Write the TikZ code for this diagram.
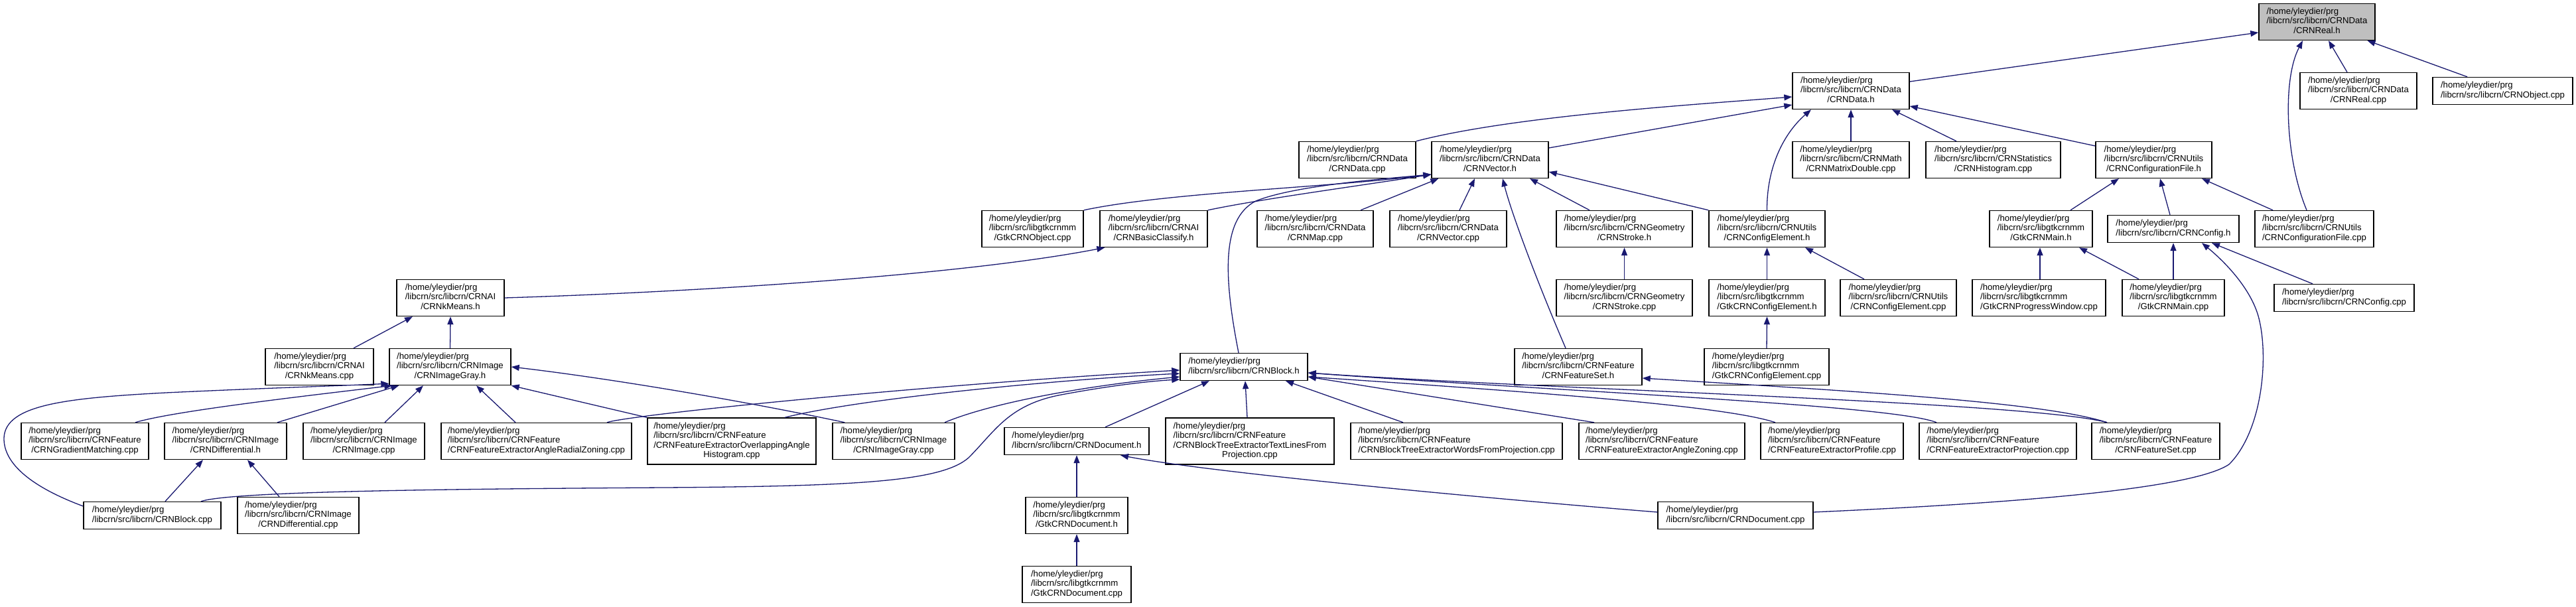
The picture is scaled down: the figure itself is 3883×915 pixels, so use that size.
\documentclass[tikz,border=0pt]{standalone}
\usepackage{fontspec}
\setmainfont{Liberation Sans}
\usetikzlibrary{arrows.meta}
\definecolor{edgeblue}{HTML}{191970}
\definecolor{rootgrey}{HTML}{BFBFBF}
\newcommand{\hdr}{/home/yleydier/prg}
\newcommand{\twol}[1]{\begin{tabular}{@{}l@{}}\hdr\\#1\end{tabular}}
\newcommand{\threel}[2]{\begin{tabular}{@{}l@{}}\hdr\\#1\\\multicolumn{1}{@{}c@{}}{#2}\end{tabular}}
\newcommand{\fourl}[3]{\begin{tabular}{@{}l@{}}\hdr\\#1\\#2\\\multicolumn{1}{@{}c@{}}{#3}\end{tabular}}
\tikzset{
  srcbox/.style={draw=black, line width=1.4pt, fill=white, inner sep=0pt, minimum height=55pt,
    font=\fontsize{13.2}{14.3}\selectfont, anchor=center},
  twoline/.style={minimum height=41pt},
  fourline/.style={minimum height=70pt},
  dep/.style={draw=edgeblue, line width=1.3pt, -{Triangle[length=12pt,width=9pt]}}
}
\begin{document}
\begin{tikzpicture}[x=1pt,y=-1pt]
\fill[white] (0,0) rectangle (3883,915);
\useasboundingbox (0,0) rectangle (3883,915);
% row 0
\node[srcbox, fill=rootgrey, minimum width=175pt] (real_h) at (3492.5,33) {\threel{/libcrn/src/libcrn/CRNData}{/CRNReal.h}};
% row 1
\node[srcbox, minimum width=176pt] (data_h) at (2790,137) {\threel{/libcrn/src/libcrn/CRNData}{/CRNData.h}};
\node[srcbox, minimum width=176pt] (real_cpp) at (3555,137) {\threel{/libcrn/src/libcrn/CRNData}{/CRNReal.cpp}};
\node[srcbox, twoline, minimum width=211pt] (object_cpp) at (3772.5,137) {\twol{/libcrn/src/libcrn/CRNObject.cpp}};
% row 2
\node[srcbox, minimum width=176pt] (data_cpp) at (2046,241) {\threel{/libcrn/src/libcrn/CRNData}{/CRNData.cpp}};
\node[srcbox, minimum width=176pt] (vector_h) at (2246,241) {\threel{/libcrn/src/libcrn/CRNData}{/CRNVector.h}};
\node[srcbox, minimum width=176pt] (matrix_cpp) at (2790,241) {\threel{/libcrn/src/libcrn/CRNMath}{/CRNMatrixDouble.cpp}};
\node[srcbox, minimum width=203pt] (hist_cpp) at (3004.5,241) {\threel{/libcrn/src/libcrn/CRNStatistics}{/CRNHistogram.cpp}};
\node[srcbox, minimum width=175pt] (conffile_h) at (3246.5,241) {\threel{/libcrn/src/libcrn/CRNUtils}{/CRNConfigurationFile.h}};
% row 3
\node[srcbox, minimum width=153pt] (gtkobject_cpp) at (1556.5,345) {\threel{/libcrn/src/libgtkcrnmm}{/GtkCRNObject.cpp}};
\node[srcbox, minimum width=162pt] (basicclassify_h) at (1739,345) {\threel{/libcrn/src/libcrn/CRNAI}{/CRNBasicClassify.h}};
\node[srcbox, minimum width=175pt] (map_cpp) at (1982.5,345) {\threel{/libcrn/src/libcrn/CRNData}{/CRNMap.cpp}};
\node[srcbox, minimum width=176pt] (vector_cpp) at (2183,345) {\threel{/libcrn/src/libcrn/CRNData}{/CRNVector.cpp}};
\node[srcbox, minimum width=205pt] (stroke_h) at (2448.5,345) {\threel{/libcrn/src/libcrn/CRNGeometry}{/CRNStroke.h}};
\node[srcbox, minimum width=175pt] (configelement_h) at (2663.5,345) {\threel{/libcrn/src/libcrn/CRNUtils}{/CRNConfigElement.h}};
\node[srcbox, minimum width=155pt] (gtkmain_h) at (3076.5,345) {\threel{/libcrn/src/libgtkcrnmm}{/GtkCRNMain.h}};
\node[srcbox, twoline, minimum width=198pt] (config_h) at (3276,345) {\twol{/libcrn/src/libcrn/CRNConfig.h}};
\node[srcbox, minimum width=179pt] (conffile_cpp) at (3488.5,345) {\threel{/libcrn/src/libcrn/CRNUtils}{/CRNConfigurationFile.cpp}};
% row 4
\node[srcbox, minimum width=162pt] (kmeans_h) at (679,449) {\threel{/libcrn/src/libcrn/CRNAI}{/CRNkMeans.h}};
\node[srcbox, minimum width=205pt] (stroke_cpp) at (2448.5,449) {\threel{/libcrn/src/libcrn/CRNGeometry}{/CRNStroke.cpp}};
\node[srcbox, minimum width=175pt] (gtkconfigelement_h) at (2663.5,449) {\threel{/libcrn/src/libgtkcrnmm}{/GtkCRNConfigElement.h}};
\node[srcbox, minimum width=175pt] (configelement_cpp) at (2861.5,449) {\threel{/libcrn/src/libcrn/CRNUtils}{/CRNConfigElement.cpp}};
\node[srcbox, minimum width=201pt] (progress_cpp) at (3073.5,449) {\threel{/libcrn/src/libgtkcrnmm}{/GtkCRNProgressWindow.cpp}};
\node[srcbox, minimum width=154pt] (gtkmain_cpp) at (3276,449) {\threel{/libcrn/src/libgtkcrnmm}{/GtkCRNMain.cpp}};
\node[srcbox, twoline, minimum width=211pt] (config_cpp) at (3533.5,449) {\twol{/libcrn/src/libcrn/CRNConfig.cpp}};
% row 5
\node[srcbox, minimum width=163pt] (kmeans_cpp) at (481.5,553) {\threel{/libcrn/src/libcrn/CRNAI}{/CRNkMeans.cpp}};
\node[srcbox, minimum width=183pt] (imagegray_h) at (678.5,553) {\threel{/libcrn/src/libcrn/CRNImage}{/CRNImageGray.h}};
\node[srcbox, twoline, minimum width=192pt] (block_h) at (1875,553) {\twol{/libcrn/src/libcrn/CRNBlock.h}};
\node[srcbox, minimum width=192pt] (featureset_h) at (2379,553) {\threel{/libcrn/src/libcrn/CRNFeature}{/CRNFeatureSet.h}};
\node[srcbox, minimum width=188pt] (gtkconfigelement_cpp) at (2663,553) {\threel{/libcrn/src/libgtkcrnmm}{/GtkCRNConfigElement.cpp}};
% row 6
\node[srcbox, minimum width=192pt] (gradient_cpp) at (128,665) {\threel{/libcrn/src/libcrn/CRNFeature}{/CRNGradientMatching.cpp}};
\node[srcbox, minimum width=184pt] (differential_h) at (340,665) {\threel{/libcrn/src/libcrn/CRNImage}{/CRNDifferential.h}};
\node[srcbox, minimum width=183pt] (image_cpp) at (548.5,665) {\threel{/libcrn/src/libcrn/CRNImage}{/CRNImage.cpp}};
\node[srcbox, minimum width=287pt] (radial_cpp) at (808.5,665) {\threel{/libcrn/src/libcrn/CRNFeature}{/CRNFeatureExtractorAngleRadialZoning.cpp}};
\node[srcbox, fourline, minimum width=254pt] (overlapping_cpp) at (1103,665) {\fourl{/libcrn/src/libcrn/CRNFeature}{/CRNFeatureExtractorOverlappingAngle}{Histogram.cpp}};
\node[srcbox, minimum width=184pt] (imagegray_cpp) at (1347,665) {\threel{/libcrn/src/libcrn/CRNImage}{/CRNImageGray.cpp}};
\node[srcbox, twoline, minimum width=218pt] (document_h) at (1623,665) {\twol{/libcrn/src/libcrn/CRNDocument.h}};
\node[srcbox, fourline, minimum width=254pt] (textlines_cpp) at (1884,665) {\fourl{/libcrn/src/libcrn/CRNFeature}{/CRNBlockTreeExtractorTextLinesFrom}{Projection.cpp}};
\node[srcbox, minimum width=319pt] (words_cpp) at (2195.5,665) {\threel{/libcrn/src/libcrn/CRNFeature}{/CRNBlockTreeExtractorWordsFromProjection.cpp}};
\node[srcbox, minimum width=250pt] (anglezoning_cpp) at (2505,665) {\threel{/libcrn/src/libcrn/CRNFeature}{/CRNFeatureExtractorAngleZoning.cpp}};
\node[srcbox, minimum width=215pt] (profile_cpp) at (2761.5,665) {\threel{/libcrn/src/libcrn/CRNFeature}{/CRNFeatureExtractorProfile.cpp}};
\node[srcbox, minimum width=237pt] (projection_cpp) at (3011.5,665) {\threel{/libcrn/src/libcrn/CRNFeature}{/CRNFeatureExtractorProjection.cpp}};
\node[srcbox, minimum width=193pt] (featureset_cpp) at (3249.5,665) {\threel{/libcrn/src/libcrn/CRNFeature}{/CRNFeatureSet.cpp}};
% row 7
\node[srcbox, twoline, minimum width=207pt] (block_cpp) at (229.5,777) {\twol{/libcrn/src/libcrn/CRNBlock.cpp}};
\node[srcbox, minimum width=183pt] (differential_cpp) at (449.5,777) {\threel{/libcrn/src/libcrn/CRNImage}{/CRNDifferential.cpp}};
\node[srcbox, minimum width=154pt] (gtkdocument_h) at (1623,777) {\threel{/libcrn/src/libgtkcrnmm}{/GtkCRNDocument.h}};
\node[srcbox, twoline, minimum width=234pt] (document_cpp) at (2616,777) {\twol{/libcrn/src/libcrn/CRNDocument.cpp}};
% row 8
\node[srcbox, minimum width=164pt] (gtkdocument_cpp) at (1623,881) {\threel{/libcrn/src/libgtkcrnmm}{/GtkCRNDocument.cpp}};

% ---- edges into CRNReal.h
\draw[dep] ([yshift=14pt]data_h.east) -- ([yshift=-16pt]real_h.west);
\draw[dep] ([xshift=-17pt]real_cpp.north) -- ([xshift=17.5pt]real_h.south);
\draw[dep] ([xshift=-53.5pt]object_cpp.north) -- ([xshift=76pt]real_h.south);
\draw[dep] ([xshift=-11.5pt]conffile_cpp.north) .. controls (3445,240) and (3440,120) .. ([xshift=-21.5pt]real_h.south);
% ---- edges into CRNData.h
\draw[dep] (data_cpp.north east) .. controls (2280,175) and (2550,158) .. ([yshift=-9pt]data_h.west);
\draw[dep] ([yshift=18pt]vector_h.east) -- ([yshift=-21pt]data_h.west);
\draw[dep] (configelement_h.north) .. controls (2663,250) and (2690,200) .. ([xshift=-60pt]data_h.south);
\draw[dep] (matrix_cpp.north) -- (data_h.south);
\draw[dep] ([xshift=-55.5pt]hist_cpp.north) -- ([xshift=62pt]data_h.south);
\draw[dep] ([yshift=21pt]conffile_h.west) -- ([yshift=-23pt]data_h.east);
% ---- edges into CRNVector.h
\draw[dep] (gtkobject_cpp.north east) .. controls (1760,290) and (2000,283) .. ([yshift=-22pt]vector_h.west);
\draw[dep] (basicclassify_h.north east) .. controls (1900,300) and (2050,280) .. ([yshift=-22pt]vector_h.west);
\draw[dep] ([xshift=-8pt]block_h.north) .. controls (1845,420) and (1840,330) .. (1893,303) .. controls (1950,280) and (2080,270) .. ([yshift=-22pt]vector_h.west);
\draw[dep] ([xshift=68.5pt]map_cpp.north) -- ([xshift=11pt]vector_h.south west);
\draw[dep] ([xshift=17pt]vector_cpp.north) -- ([xshift=-23pt]vector_h.south);
\draw[dep] ([xshift=-19pt]featureset_h.north) .. controls (2315,420) and (2278,320) .. ([xshift=19pt]vector_h.south);
\draw[dep] ([xshift=-52.5pt]stroke_h.north) -- ([xshift=60pt]vector_h.south);
\draw[dep] (configelement_h.north west) -- ([yshift=-18pt]vector_h.east);
% ---- CRNkMeans.h / CRNBasicClassify.h
\draw[dep] (kmeans_h.east) .. controls (1050,440) and (1450,415) .. ([xshift=8pt]basicclassify_h.south west);
\draw[dep] ([xshift=51.5pt]kmeans_cpp.north) -- ([xshift=-57pt]kmeans_h.south);
\draw[dep] (imagegray_h.north) -- (kmeans_h.south);
% ---- CRNConfigurationFile.h
\draw[dep] ([xshift=44.5pt]gtkmain_h.north) -- ([xshift=-52.5pt]conffile_h.south);
\draw[dep] ([xshift=-5pt]config_h.north) -- ([xshift=9.5pt]conffile_h.south);
\draw[dep] ([xshift=-62.5pt]conffile_cpp.north) -- ([xshift=72.5pt]conffile_h.south);
% ---- GtkCRNMain.h / CRNConfig.h
\draw[dep] ([xshift=1.5pt]progress_cpp.north) -- ([xshift=-1.5pt]gtkmain_h.south);
\draw[dep] ([xshift=-52pt]gtkmain_cpp.north) -- ([xshift=57.5pt]gtkmain_h.south);
\draw[dep] (gtkmain_cpp.north) -- (config_h.south);
\draw[dep] ([xshift=-47.5pt]config_cpp.north) -- ([xshift=58pt]config_h.south);
\draw[dep] ([yshift=5pt]document_cpp.east) .. controls (3000,760) and (3300,740) .. (3360,700) .. controls (3410,650) and (3420,540) .. (3405,480) .. controls (3395,440) and (3360,400) .. ([xshift=43pt]config_h.south);
% ---- config element, stroke
\draw[dep] (gtkconfigelement_h.north) -- (configelement_h.south);
\draw[dep] ([xshift=-51.5pt]configelement_cpp.north) -- ([xshift=57.5pt]configelement_h.south);
\draw[dep] (gtkconfigelement_cpp.north) -- (gtkconfigelement_h.south);
\draw[dep] (stroke_cpp.north) -- (stroke_h.south);
% ---- CRNImageGray.h
\draw[dep] ([yshift=14pt]block_cpp.west) .. controls (50,735) and (5,700) .. (6,660) .. controls (8,610) and (100,600) .. (250,592) .. controls (400,585) and (500,582) .. ([yshift=3pt]imagegray_h.south west);
\draw[dep] ([xshift=76pt]gradient_cpp.north) .. controls (260,620) and (450,598) .. ([xshift=5pt]imagegray_h.south west);
\draw[dep] ([xshift=78pt]differential_h.north) -- ([xshift=15pt]imagegray_h.south west);
\draw[dep] ([xshift=31.5pt]image_cpp.north) -- ([xshift=-40.5pt]imagegray_h.south);
\draw[dep] ([xshift=-31.5pt]radial_cpp.north) -- ([xshift=39.5pt]imagegray_h.south);
\draw[dep] (overlapping_cpp.north west) -- (imagegray_h.south east);
\draw[dep] ([xshift=19pt]imagegray_cpp.north west) .. controls (1100,600) and (900,568) .. (imagegray_h.east);
% ---- CRNDifferential.h
\draw[dep] ([xshift=19.5pt]block_cpp.north) -- ([xshift=-34pt]differential_h.south);
\draw[dep] ([xshift=-28.5pt]differential_cpp.north) -- ([xshift=33pt]differential_h.south);
% ---- CRNBlock.h
\draw[dep] ([xshift=106.5pt]radial_cpp.north) .. controls (950,625) and (1400,580) .. ([yshift=-5pt]block_h.west);
\draw[dep] ([xshift=80pt]overlapping_cpp.north) .. controls (1300,600) and (1600,572) .. ([yshift=-10pt]block_h.west);
\draw[dep] ([xshift=77pt]imagegray_cpp.north) .. controls (1500,605) and (1650,580) .. ([yshift=-15pt]block_h.west);
\draw[dep] ([xshift=73.5pt]block_cpp.north) .. controls (350,740) and (700,737) .. (1000,735) .. controls (1300,733) and (1420,725) .. (1460,690) .. controls (1500,650) and (1520,610) .. (1600,595) .. controls (1680,580) and (1740,574) .. ([yshift=-19pt]block_h.west);
\draw[dep] ([xshift=43pt]document_h.north) -- ([xshift=-52pt]block_h.south);
\draw[dep] ([xshift=-4pt]textlines_cpp.north) -- ([xshift=2pt]block_h.south);
\draw[dep] ([xshift=-80.5pt]words_cpp.north) -- ([xshift=63pt]block_h.south);
\draw[dep] ([xshift=-102pt]anglezoning_cpp.north) -- ([yshift=-15pt]block_h.east);
\draw[dep] ([xshift=-85.5pt]profile_cpp.north) .. controls (2600,612) and (2330,592) .. ([yshift=-15pt]block_h.east);
\draw[dep] ([xshift=-92.5pt]projection_cpp.north) .. controls (2850,610) and (2350,590) .. ([yshift=-9pt]block_h.east);
\draw[dep] ([xshift=-73.5pt]featureset_cpp.north) .. controls (3060,606) and (2350,588) .. ([yshift=-9pt]block_h.east);
\draw[dep] ([xshift=-73.5pt]featureset_cpp.north) .. controls (3080,606) and (2800,590) .. ([yshift=-17pt]featureset_h.east);
% ---- CRNDocument.h
\draw[dep] (gtkdocument_h.north) -- (document_h.south);
\draw[dep] ([yshift=5pt]document_cpp.west) .. controls (2250,752) and (1820,712) .. ([xshift=66pt]document_h.south);
\draw[dep] (gtkdocument_cpp.north) -- (gtkdocument_h.south);
\end{tikzpicture}
\end{document}
